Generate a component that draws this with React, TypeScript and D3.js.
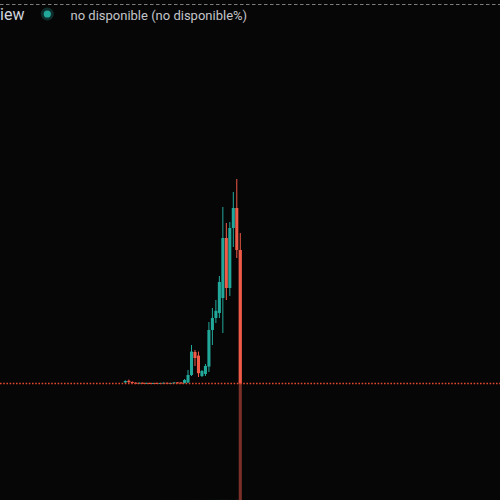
import * as React from "react";
import { scaleBand, scaleLinear } from "d3";

// daily candles, prices in chart units
const days = [
    "04-01", "04-02", "04-03", "04-04", "04-05", "04-06", "04-07", "04-08", "04-09", "04-10",
    "04-11", "04-12", "04-13", "04-14", "04-15", "04-16", "04-17", "04-18", "04-19", "04-20",
    "04-21", "04-22", "04-23", "04-24", "04-25", "04-26", "04-27", "04-28", "04-29", "04-30",
    "05-01", "05-02", "05-03", "05-04"
];
const opens = [0.8, 1.6, 1.0, 0.6, 0.5, 0.6, 0.4, 0.5, 0.4, 0.5, 0.4, 0.5, 0.6, 0.4, 0.5, 0.8, 0.7, 0.5, 0.7, 4.5, 16, 14.2, 4, 5, 8.7, 27, 33, 35.5, 43, 73, 48, 78, 88, 67];
const highs = [1.8, 2.2, 1.3, 0.9, 0.8, 0.8, 0.7, 0.7, 0.6, 0.7, 0.6, 0.8, 0.7, 0.6, 0.9, 1.0, 1.0, 2.5, 7, 19.5, 17, 16.2, 7, 10, 31, 38, 42, 54, 88.5, 80.5, 81, 96, 102.5, 75.5];
const lows = [0.5, 0.6, 0.4, 0.3, 0.3, 0.3, 0.3, 0.3, 0.2, 0.3, 0.3, 0.4, 0.3, 0.3, 0.4, 0.5, 0.5, 0.25, 0.5, 4, 9, 3.5, 3.5, 4, 6, 19.5, 30.5, 33, 25.5, 42, 44, 68.5, 63, 0];
const closes = [1.5, 0.9, 0.6, 0.5, 0.6, 0.4, 0.5, 0.4, 0.5, 0.4, 0.5, 0.6, 0.4, 0.5, 0.8, 0.7, 0.5, 2, 4.5, 16.2, 13, 5.4, 6.5, 9, 27, 33, 36.6, 51, 73, 48, 78, 88, 67, 0.3];
const volumes = [0.01, 0.01, 0.01, 0.01, 0.01, 0.01, 0.01, 0.01, 0.01, 0.01, 0.01, 0.01, 0.01, 0.01, 0.01, 0.01, 0.01, 0.01, 0.01, 0.02, 0.02, 0.02, 0.01, 0.01, 0.02, 0.02, 0.02, 0.03, 0.04, 0.04, 0.03, 0.03, 0.05, 100];

const UP = "#22a89a";
const DOWN = "#f05b48";

export default function App() {
    const width = 500;
    const height = 500;

    const x = scaleBand()
        .domain(days)
        .range([123.8, 241.8])
        .paddingInner(0.12);

    const y = scaleLinear().domain([0, 100]).range([384, 184]);
    const v = scaleLinear().domain([0, 100]).range([500, 250]);

    const bw = x.bandwidth();
    const lastClose = closes[closes.length - 1];
    const py = Math.round(y(lastClose)) + 0.5;

    return (
        <div style={{ position: "fixed", left: 0, top: 0, width, height, background: "#060607" }}>
            <svg width={width} height={height} style={{ display: "block" }}>
                <rect width={width} height={height} fill="#060607" />
                <line x1={0} x2={width} y1={4.5} y2={4.5} stroke="#7d7d80" strokeDasharray="3.5,2.5" />

                {/* volume */}
                <g opacity={0.5}>
                    {days.map((d, i) => (
                        <rect
                            key={d}
                            x={x(d)}
                            width={bw}
                            y={v(volumes[i])}
                            height={v(0) - v(volumes[i])}
                            fill={closes[i] >= opens[i] ? UP : DOWN}
                        />
                    ))}
                </g>

                {/* candles */}
                {days.map((d, i) => {
                    const col = closes[i] >= opens[i] ? UP : DOWN;
                    const cx = x(d) + bw / 2;
                    const top = y(Math.max(opens[i], closes[i]));
                    const bot = y(Math.min(opens[i], closes[i]));
                    return (
                        <g key={d}>
                            <line x1={cx} x2={cx} y1={y(highs[i])} y2={y(lows[i])} stroke={col} strokeWidth={1} />
                            <rect x={x(d)} width={bw} y={top} height={Math.max(1, bot - top)} fill={col} />
                        </g>
                    );
                })}

                <line
                    x1={0}
                    x2={width}
                    y1={py}
                    y2={py}
                    stroke="#e2472f"
                    strokeWidth={1.4}
                    strokeDasharray="1.6,1.6"
                />

                {/* header */}
                <text x={24.5} y={20} textAnchor="end" fontFamily="Roboto, sans-serif" fontSize={16} fill="#d1d4dc">
                    TradingView
                </text>
                <circle cx={47.3} cy={14} r={6.5} fill={UP} opacity={0.25} />
                <circle cx={47.3} cy={14} r={3.6} fill={UP} />
                <text x={70.5} y={20} fontFamily="Roboto, sans-serif" fontSize={13} fill="#c3c4c8">
                    no disponible (no disponible%)
                </text>
            </svg>
        </div>
    );
}
